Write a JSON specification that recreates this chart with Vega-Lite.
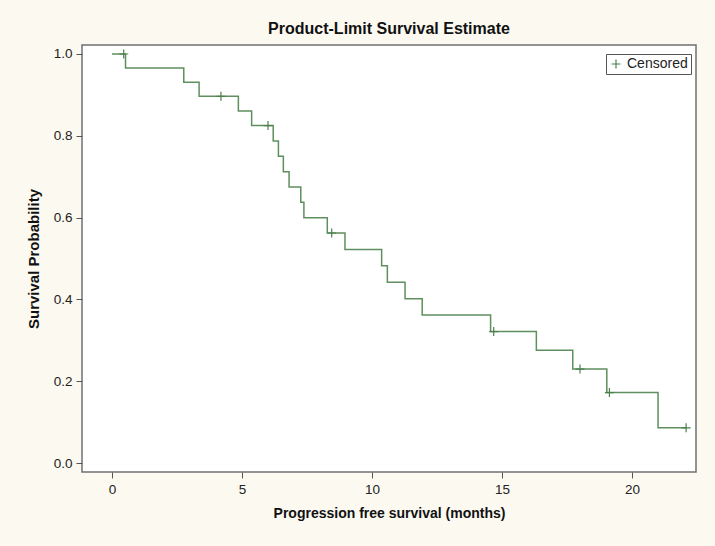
{
  "$schema": "https://vega.github.io/schema/vega-lite/v6.json",
  "autosize": "none",
  "width": 614,
  "height": 427,
  "padding": {"left": 82, "top": 45, "right": 19, "bottom": 74},
  "background": "#fcf9f1",
  "title": {
    "text": "Product-Limit Survival Estimate",
    "font": "Liberation Sans",
    "fontSize": 16,
    "fontWeight": "bold",
    "color": "#111111",
    "offset": 8,
    "anchor": "middle"
  },
  "config": {
    "view": {"fill": "white", "stroke": "#707070", "strokeWidth": 1.5},
    "axis": {
      "domain": false,
      "grid": false,
      "tickColor": "#555555",
      "tickSize": 6,
      "labelFont": "Liberation Sans",
      "labelFontSize": 13.5,
      "labelColor": "#222222",
      "labelPadding": 4,
      "titleColor": "#111111",
      "titleFontWeight": "bold"
    }
  },
  "datasets": {
    "curve": [
      {"t": 0, "s": 1.0},
      {"t": 0.52, "s": 0.9655},
      {"t": 2.76, "s": 0.931},
      {"t": 3.35, "s": 0.8966},
      {"t": 4.86, "s": 0.8607},
      {"t": 5.37, "s": 0.8249},
      {"t": 6.2, "s": 0.7874},
      {"t": 6.4, "s": 0.7499},
      {"t": 6.59, "s": 0.7124},
      {"t": 6.81, "s": 0.6749},
      {"t": 7.26, "s": 0.6374},
      {"t": 7.38, "s": 0.5999},
      {"t": 8.28, "s": 0.5624},
      {"t": 8.96, "s": 0.5222},
      {"t": 10.37, "s": 0.4821},
      {"t": 10.59, "s": 0.4419},
      {"t": 11.27, "s": 0.4017},
      {"t": 11.93, "s": 0.3616},
      {"t": 14.56, "s": 0.3214},
      {"t": 16.32, "s": 0.2755},
      {"t": 17.72, "s": 0.2296},
      {"t": 19.03, "s": 0.1722},
      {"t": 21.0, "s": 0.0861},
      {"t": 22.08, "s": 0.0861}
    ],
    "censored": [
      {"t": 0.45, "s": 1.0, "type": "Censored"},
      {"t": 4.19, "s": 0.8966, "type": "Censored"},
      {"t": 6.0, "s": 0.8249, "type": "Censored"},
      {"t": 8.45, "s": 0.5624, "type": "Censored"},
      {"t": 14.68, "s": 0.3214, "type": "Censored"},
      {"t": 18.0, "s": 0.2296, "type": "Censored"},
      {"t": 19.13, "s": 0.1722, "type": "Censored"},
      {"t": 22.08, "s": 0.0861, "type": "Censored"}
    ]
  },
  "layer": [
    {
      "data": {"name": "curve"},
      "mark": {"type": "line", "interpolate": "step-after", "color": "#5e8f5e", "strokeWidth": 1.5},
      "encoding": {
        "x": {
          "field": "t", "type": "quantitative",
          "scale": {"domain": [-1.154, 22.46], "nice": false, "zero": false},
          "axis": {
            "values": [0, 5, 10, 15, 20],
            "title": "Progression free survival (months)",
            "titleFont": "Liberation Sans",
            "titleFontSize": 14,
            "titlePadding": 11
          }
        },
        "y": {
          "field": "s", "type": "quantitative",
          "scale": {"domain": [-0.022, 1.022], "nice": false, "zero": false},
          "axis": {
            "values": [0, 0.2, 0.4, 0.6, 0.8, 1.0],
            "format": ".1f",
            "title": "Survival Probability",
            "titleFont": "Liberation Sans",
            "titleFontSize": 15,
            "titlePadding": 12
          }
        }
      }
    },
    {
      "data": {"name": "censored"},
      "mark": {"type": "point", "filled": false, "color": "#4f7f4f", "strokeWidth": 1.2, "size": 81, "opacity": 1},
      "encoding": {
        "x": {"field": "t", "type": "quantitative"},
        "y": {"field": "s", "type": "quantitative"},
        "shape": {
          "field": "type", "type": "nominal",
          "scale": {"domain": ["Censored"], "range": ["M-1,0H1M0,-1V1"]},
          "legend": {
            "title": null,
            "orient": "none",
            "legendX": 524,
            "legendY": 9,
            "fillColor": "white",
            "strokeColor": "#555555",
            "padding": 3,
            "cornerRadius": 0,
            "labelFont": "Liberation Sans",
            "labelFontSize": 14,
            "labelColor": "#222222",
            "symbolSize": 81,
            "symbolStrokeColor": "#4f7f4f",
            "symbolStrokeWidth": 1.2,
            "symbolFillColor": "transparent"
          }
        }
      }
    }
  ]
}
